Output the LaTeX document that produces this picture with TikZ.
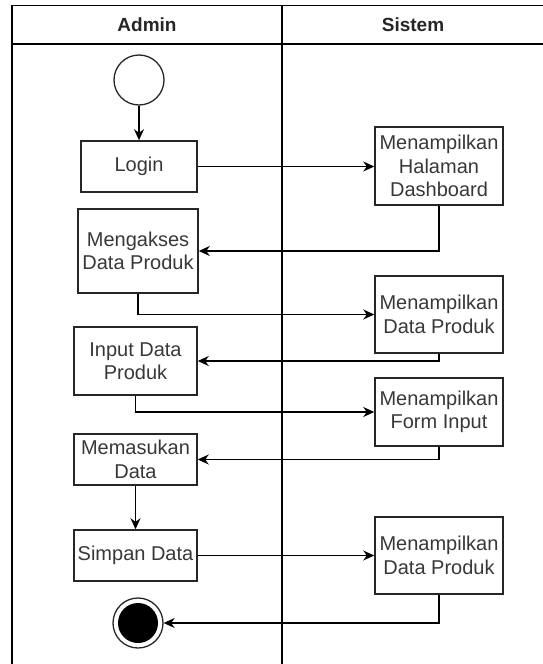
\documentclass[tikz,border=0pt]{standalone}
\usepackage{fontspec}
\setmainfont{Liberation Sans}
\usetikzlibrary{arrows.meta}
\begin{document}
\begin{tikzpicture}[x=1pt,y=-1pt,
  lane/.style={draw=black, line width=1.5pt},
  act/.style={draw=black!85, line width=1.5pt, fill=white, align=center,
    inner sep=0pt, text=black!78,
    font=\fontsize{20}{23.5}\selectfont},
  flow/.style={draw=black, line width=1.5pt,
    -{Stealth[length=11pt,width=10pt,inset=3.5pt]}},
  head/.style={font=\bfseries\fontsize{19}{22}\selectfont, text=black!85}]
  \useasboundingbox (0,0) rectangle (543,664);

  % swimlane frame
  \draw[lane] (12,668) -- (12,5.7) -- (548,5.7);
  \draw[lane] (12,44) -- (548,44);
  \draw[lane] (282,5.7) -- (282,668);
  \node[head] (hadmin) at (147,25) {Admin};
  \node[head] (hsistem) at (413,25) {Sistem};

  % start / end
  \node[circle, draw=black!85, line width=1.3pt, minimum size=50pt, inner sep=0pt] (start) at (139,80) {};
  \node[circle, draw=black!85, line width=1.3pt, minimum size=50pt, inner sep=0pt] (endo) at (138,623) {};
  \node[circle, fill=black, minimum size=40pt, inner sep=0pt] (endi) at (138,623) {};

  % Admin activities
  \node[act, minimum width=116pt, minimum height=51pt] (login) at (139,166.5) {Login};
  \node[act, minimum width=120pt, minimum height=84pt] (akses) at (138,251) {Mengakses\\Data Produk};
  \node[act, minimum width=123pt, minimum height=68pt] (input) at (135.5,361) {Input Data\\Produk};
  \node[act, minimum width=123pt, minimum height=51pt] (masuk) at (135.5,459.5) {Memasukan\\Data};
  \node[act, minimum width=123pt, minimum height=51pt] (simpan) at (135.5,555.5) {Simpan Data};

  % Sistem activities
  \node[act, minimum width=128pt, minimum height=78pt] (dash) at (439,166) {Menampilkan\\Halaman\\Dashboard};
  \node[act, minimum width=128pt, minimum height=77pt] (dp1) at (439,314.5) {Menampilkan\\Data Produk};
  \node[act, minimum width=128pt, minimum height=68pt] (form) at (439,412) {Menampilkan\\Form Input};
  \node[act, minimum width=128pt, minimum height=77pt] (dp2) at (439,555.5) {Menampilkan\\Data Produk};

  % control flow
  \draw[flow] (start) -- (login);
  \draw[flow] (login) -- (login -| dash.west);
  \draw[flow] (dash.south) |- (akses.east);
  \draw[flow] (akses.south) |- (dp1.west);
  \draw[flow] (dp1.south) |- (input.east);
  \draw[flow] (input.south) |- (form.west);
  \draw[flow] (form.south) |- (masuk.east);
  \draw[flow] (masuk) -- (simpan);
  \draw[flow] (simpan) -- (simpan -| dp2.west);
  \draw[flow] (dp2.south) |- (endo.east);
\end{tikzpicture}
\end{document}
